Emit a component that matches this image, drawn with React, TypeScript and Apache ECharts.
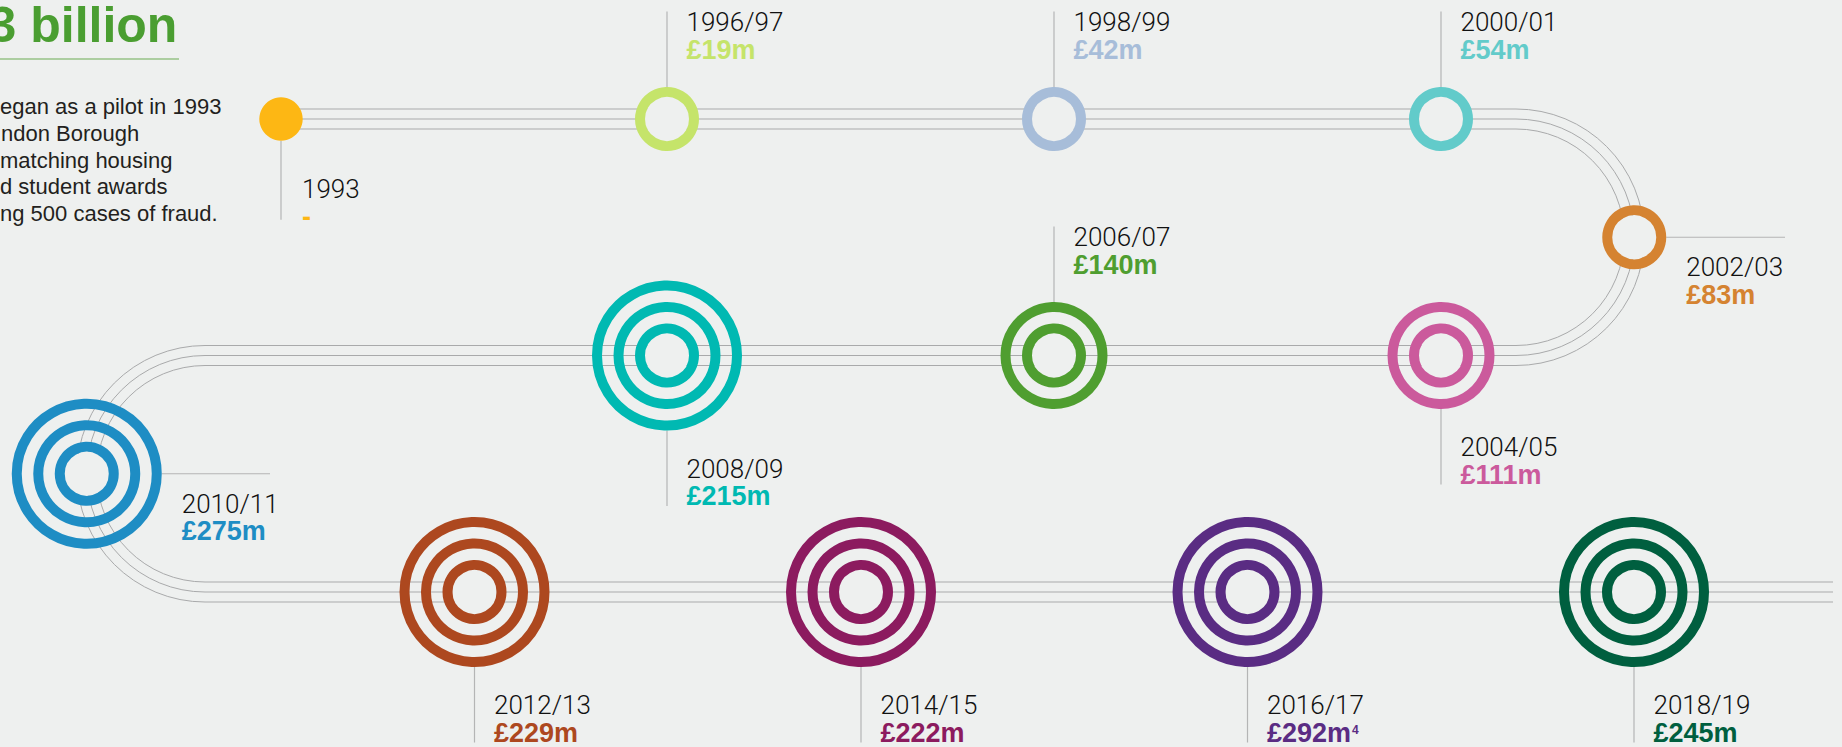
import React, { useEffect, useRef } from "react";
import * as echarts from "echarts";

const WIDTH = 1842;
const HEIGHT = 747;
const BG = "#eef0ef";

// ---------------- data ----------------
const years = [
  "1993", "1996/97", "1998/99", "2000/01", "2002/03", "2004/05", "2006/07",
  "2008/09", "2010/11", "2012/13", "2014/15", "2016/17", "2018/19",
];
const savings = [
  "-", "£19m", "£42m", "£54m", "£83m", "£111m", "£140m",
  "£215m", "£275m", "£229m", "£222m", "£292m", "£245m",
];
const footnoteMarks = ["", "", "", "", "", "", "", "", "", "", "", "4", ""];
const ringCounts = [0, 1, 1, 1, 1, 2, 2, 3, 3, 3, 3, 3, 3];
const milestoneColors = [
  "#fdb714", "#c5e46a", "#a7bdd9", "#62cbca", "#d58331", "#cb5a9c", "#4f9e30",
  "#00b9b2", "#1e8dc4", "#ad481f", "#8c1b5f", "#5a2c83", "#005f3f",
];
const headline = "3 billion";
const introLines = [
  "egan as a pilot in 1993",
  "ndon Borough",
  "matching housing",
  "d student awards",
  "ng 500 cases of fraud.",
];

// ---------------- layout ----------------
const ROWS = [119, 355.5, 592];
const TURN_R = (ROWS[1] - ROWS[0]) / 2;
const TURN_RIGHT_X = 1516;
const TURN_LEFT_X = 205;
const TRACK_START_X = 281;
const TRACK_END_X = 1833;
const LANE_GAP = 10;
const TRACK_COLOR = "#a9aaab";
const LEADER_COLOR = "#b4b5b5";

const DOT_R = 21.7;
const RING_HOLE = 22;
const RING_R0 = 27;
const RING_STEP = 21.5;
const RING_W = 10;
const LEAD = 75.5;

const YEAR_FONT = { fontFamily: "Roboto, 'Liberation Sans', sans-serif", fontWeight: 300, fontSize: 26 };
const VALUE_FONT = { fontFamily: "'Liberation Sans', Arial, sans-serif", fontWeight: "bold", fontSize: 27 };

type Dir = "up" | "down" | "right";
const nodeLayout: { x: number; y: number; dir: Dir; lead?: number; shift?: number; lineTo?: number }[] = [
  { x: 281, y: ROWS[0], dir: "down", lead: 79, shift: 7 },
  { x: 667, y: ROWS[0], dir: "up" },
  { x: 1054, y: ROWS[0], dir: "up" },
  { x: 1441, y: ROWS[0], dir: "up" },
  { x: TURN_RIGHT_X + TURN_R, y: (ROWS[0] + ROWS[1]) / 2, dir: "right", lineTo: 1785 },
  { x: 1441, y: ROWS[1], dir: "down" },
  { x: 1054, y: ROWS[1], dir: "up" },
  { x: 667, y: ROWS[1], dir: "down" },
  { x: TURN_LEFT_X - TURN_R, y: (ROWS[1] + ROWS[2]) / 2, dir: "right", lineTo: 270 },
  { x: 474.5, y: ROWS[2], dir: "down" },
  { x: 861, y: ROWS[2], dir: "down" },
  { x: 1247.5, y: ROWS[2], dir: "down" },
  { x: 1634, y: ROWS[2], dir: "down" },
];

function measure(text: string, font: { fontFamily: string; fontWeight: any; fontSize: number }) {
  const c = document.createElement("canvas").getContext("2d");
  if (!c) return text.length * font.fontSize * 0.55;
  c.font = `${font.fontWeight} ${font.fontSize}px ${font.fontFamily}`;
  return c.measureText(text).width;
}

function buildTrack(): any[] {
  const els: any[] = [];
  const line = (x1: number, y1: number, x2: number, y2: number) => ({
    type: "line",
    z: 1,
    silent: true,
    shape: { x1, y1, x2, y2 },
    style: { stroke: TRACK_COLOR, lineWidth: 1 },
  });
  for (const d of [-LANE_GAP, 0, LANE_GAP]) {
    els.push(line(TRACK_START_X, ROWS[0] + d, TURN_RIGHT_X, ROWS[0] + d));
    els.push(line(TURN_LEFT_X, ROWS[1] + d, TURN_RIGHT_X, ROWS[1] + d));
    els.push(line(TURN_LEFT_X, ROWS[2] + d, TRACK_END_X, ROWS[2] + d));
    els.push({
      type: "arc",
      z: 1,
      silent: true,
      shape: {
        cx: TURN_RIGHT_X,
        cy: (ROWS[0] + ROWS[1]) / 2,
        r: TURN_R - d,
        startAngle: -Math.PI / 2,
        endAngle: Math.PI / 2,
        clockwise: true,
      },
      style: { stroke: TRACK_COLOR, lineWidth: 1, fill: "none" },
    });
    els.push({
      type: "arc",
      z: 1,
      silent: true,
      shape: {
        cx: TURN_LEFT_X,
        cy: (ROWS[1] + ROWS[2]) / 2,
        r: TURN_R - d,
        startAngle: Math.PI / 2,
        endAngle: (3 * Math.PI) / 2,
        clockwise: true,
      },
      style: { stroke: TRACK_COLOR, lineWidth: 1, fill: "none" },
    });
  }
  return els;
}

function buildIntro(): any[] {
  const els: any[] = [];
  els.push({
    type: "text",
    z: 5,
    x: -11.5,
    y: 24.5,
    style: {
      text: headline,
      fill: "#4a9e31",
      fontFamily: "'Liberation Sans', Arial, sans-serif",
      fontWeight: "bold",
      fontSize: 50,
      align: "left",
      verticalAlign: "middle",
    },
  });
  els.push({
    type: "line",
    z: 5,
    shape: { x1: 0, y1: 59, x2: 179, y2: 59 },
    style: { stroke: "#6aab52", lineWidth: 1 },
  });
  const starts = [0, 1, 0, 0, 0];
  introLines.forEach((t, i) => {
    els.push({
      type: "text",
      z: 5,
      x: starts[i],
      y: 106.8 + i * 26.7,
      style: {
        text: t,
        fill: "#231f20",
        fontFamily: "'Liberation Sans', Arial, sans-serif",
        fontSize: 22,
        align: "left",
        verticalAlign: "middle",
      },
    });
  });
  return els;
}

function renderMilestone(params: any, api: any) {
  const i = api.value(2) as number;
  const [cx, cy] = api.coord([api.value(0), api.value(1)]);
  const lay = nodeLayout[i];
  const n = ringCounts[i];
  const color = milestoneColors[i];
  const children: any[] = [];
  let outerR: number;
  if (n === 0) {
    outerR = DOT_R;
    children.push({ type: "circle", shape: { cx, cy, r: DOT_R }, style: { fill: color }, z2: 5 });
  } else {
    children.push({ type: "circle", shape: { cx, cy, r: RING_HOLE }, style: { fill: BG }, z2: 4 });
    for (let k = 0; k < n; k++) {
      children.push({
        type: "circle",
        shape: { cx, cy, r: RING_R0 + RING_STEP * k },
        style: { fill: "none", stroke: color, lineWidth: RING_W },
        z2: 5,
      });
    }
    outerR = RING_R0 + RING_STEP * (n - 1) + RING_W / 2;
  }
  const lead = lay.lead ?? LEAD;
  const shift = lay.shift ?? 0;
  let labelX: number, yearY: number, valueY: number;
  if (lay.dir === "up") {
    const top = cy - outerR - lead;
    children.push({
      type: "line",
      shape: { x1: cx, y1: cy - outerR, x2: cx, y2: top },
      style: { stroke: LEADER_COLOR, lineWidth: 1.2 },
      z2: 3,
    });
    labelX = cx + 19.5;
    yearY = top + 10.5;
    valueY = top + 38;
  } else if (lay.dir === "down") {
    const bottom = cy + outerR + lead;
    children.push({
      type: "line",
      shape: { x1: cx, y1: cy + outerR, x2: cx, y2: bottom },
      style: { stroke: LEADER_COLOR, lineWidth: 1.2 },
      z2: 3,
    });
    labelX = cx + (n === 0 ? 21 : 19.5);
    yearY = bottom - 37.5 + shift;
    valueY = bottom - 10 + shift;
  } else {
    children.push({
      type: "line",
      shape: { x1: cx + outerR, y1: cy, x2: lay.lineTo, y2: cy },
      style: { stroke: LEADER_COLOR, lineWidth: 1.2 },
      z2: 3,
    });
    labelX = cx + outerR + 20;
    yearY = cy + 30;
    valueY = cy + 57.5;
  }
  children.push({
    type: "text",
    x: labelX,
    y: yearY,
    z2: 6,
    style: {
      text: years[i],
      fill: "#111111",
      ...YEAR_FONT,
      align: "left",
      verticalAlign: "middle",
    },
  });
  children.push({
    type: "text",
    x: labelX,
    y: valueY,
    z2: 6,
    style: {
      text: savings[i],
      fill: color,
      ...VALUE_FONT,
      align: "left",
      verticalAlign: "middle",
    },
  });
  if (footnoteMarks[i]) {
    children.push({
      type: "text",
      x: labelX + measure(savings[i], VALUE_FONT) + 1,
      y: valueY - 3,
      z2: 6,
      style: {
        text: footnoteMarks[i],
        fill: color,
        fontFamily: VALUE_FONT.fontFamily,
        fontWeight: "bold",
        fontSize: 12,
        align: "left",
        verticalAlign: "middle",
      },
    });
  }
  return { type: "group", children };
}

export default function App() {
  const ref = useRef<HTMLDivElement>(null);
  useEffect(() => {
    if (!ref.current) return;
    const chart = echarts.init(ref.current, undefined, { renderer: "svg", width: WIDTH, height: HEIGHT });
    const option: any = {
      animation: false,
      backgroundColor: BG,
      grid: { left: 0, right: 0, top: 0, bottom: 0 },
      xAxis: { type: "value", min: 0, max: WIDTH, show: false },
      yAxis: { type: "value", min: 0, max: HEIGHT, inverse: true, show: false },
      graphic: { elements: [...buildTrack(), ...buildIntro()] },
      series: [
        {
          type: "custom",
          z: 3,
          clip: false,
          silent: true,
          encode: { x: 0, y: 1 },
          data: nodeLayout.map((l, i) => [l.x, l.y, i]),
          renderItem: renderMilestone,
        },
      ],
    };
    chart.setOption(option);
    return () => chart.dispose();
  }, []);
  return (
    <div
      ref={ref}
      style={{ position: "fixed", left: 0, top: 0, width: WIDTH, height: HEIGHT, background: BG }}
    />
  );
}
